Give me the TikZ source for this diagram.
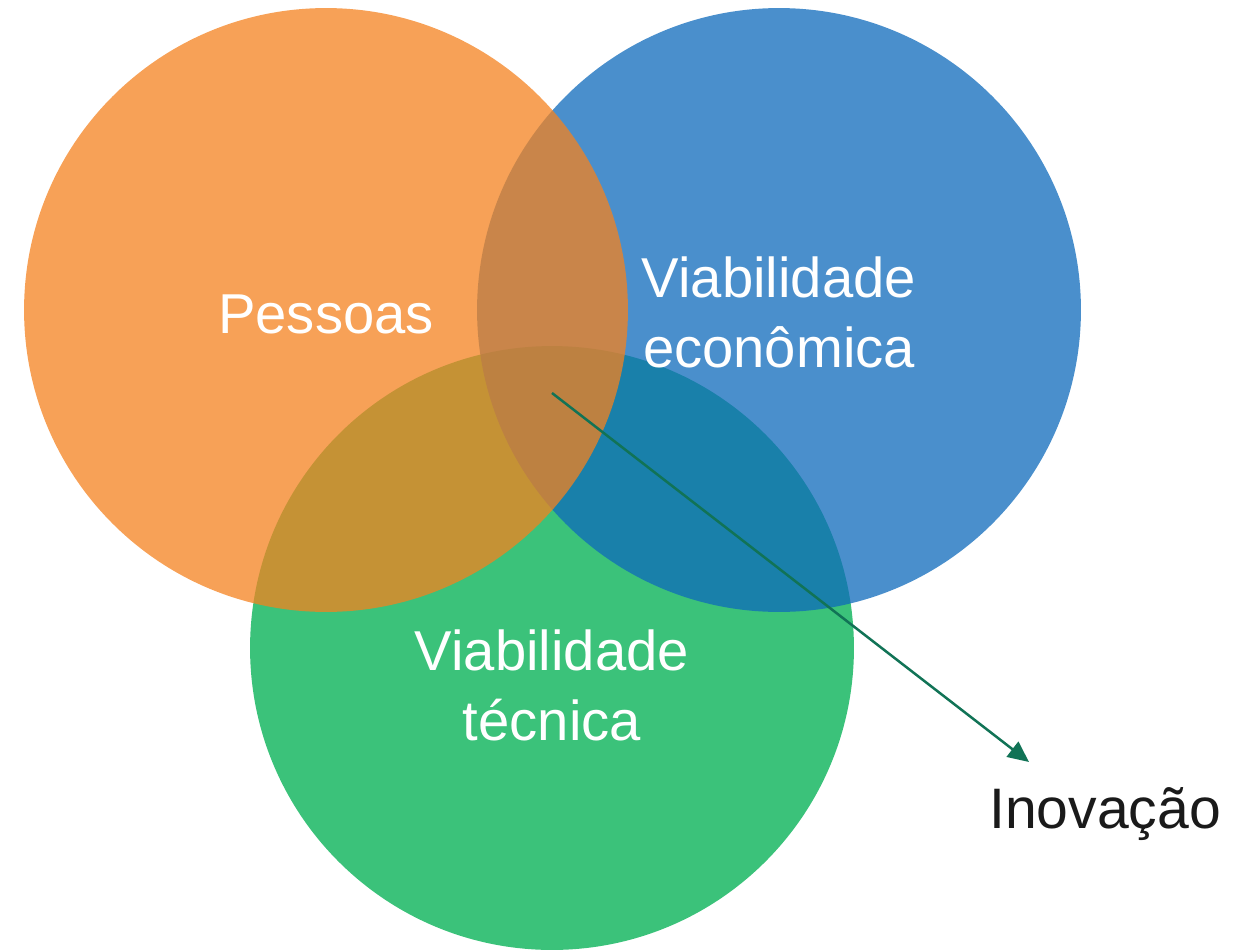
\documentclass[tikz,border=0pt]{standalone}
\usepackage{fontspec}
\setmainfont{Liberation Sans}
\usepackage{tikz}
\usetikzlibrary{arrows.meta}

\definecolor{pessoascol}{RGB}{244,130,31}
\definecolor{economiacol}{RGB}{14,106,187}
\definecolor{tecnicacol}{RGB}{59,194,122}
\definecolor{arrowcol}{RGB}{17,115,86}
\definecolor{inkcol}{RGB}{26,26,26}

\begin{document}
\begin{tikzpicture}[x=0.02cm, y=-0.02cm]
    % Styles
    \tikzstyle{set} = [circle, minimum size=12.08cm, inner sep=0pt]
    \tikzstyle{label} = [text=white, align=center, inner sep=0pt, font=\fontsize{32}{39.8}\selectfont]
    \tikzstyle{result} = [text=inkcol, inner sep=0pt, anchor=base, font=\fontsize{32.5}{40}\selectfont]
    \tikzstyle{pointer} = [draw=arrowcol, line width=0.05cm, -{Triangle[length=0.42cm, width=0.38cm]}]

    \useasboundingbox (0,0) rectangle (1251,950);

    % Circles
    \node [set, fill=tecnicacol] (Tec) at (552,648) {};
    \node [set, fill=economiacol, fill opacity=0.75] (Eco) at (779,310) {};
    \node [set, fill=pessoascol, fill opacity=0.75] (Pes) at (326,310) {};

    % Labels
    \node [label, anchor=base] (PesText) at (326,333) {Pessoas};
    \node [label] (EcoText) at (779,312) {Viabilidade\\econômica};
    \node [label] (TecText) at (552,685) {Viabilidade\\técnica};
    \node [result] (Inov) at (1105,828) {Inovação};

    % Arrow
    \coordinate (core) at (552,393);
    \coordinate (tip) at (1029,762);
    \draw [pointer] (core) -- (tip);
\end{tikzpicture}
\end{document}
